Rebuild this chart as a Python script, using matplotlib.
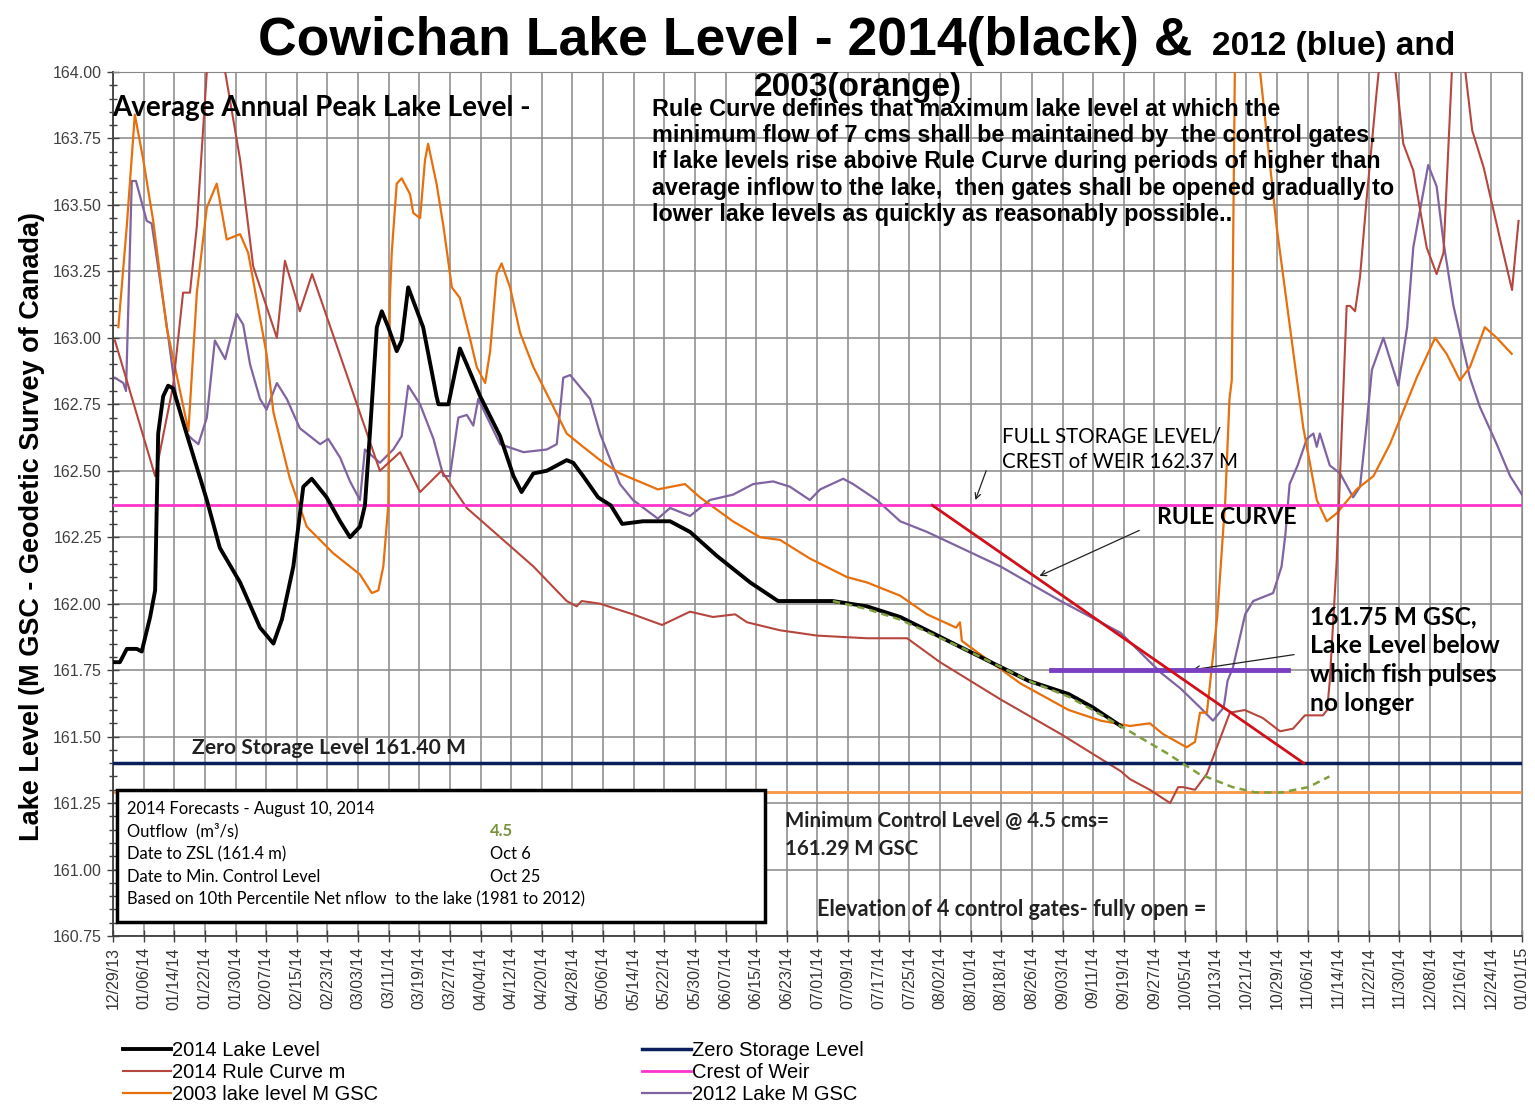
import matplotlib.pyplot as plt
import numpy as np
from matplotlib.patches import Rectangle

# x values are days since 12/29/2013
tick_labels = ['12/29/13', '01/06/14', '01/14/14', '01/22/14', '01/30/14', '02/07/14', '02/15/14',
               '02/23/14', '03/03/14', '03/11/14', '03/19/14', '03/27/14', '04/04/14', '04/12/14',
               '04/20/14', '04/28/14', '05/06/14', '05/14/14', '05/22/14', '05/30/14', '06/07/14',
               '06/15/14', '06/23/14', '07/01/14', '07/09/14', '07/17/14', '07/25/14', '08/02/14',
               '08/10/14', '08/18/14', '08/26/14', '09/03/14', '09/11/14', '09/19/14', '09/27/14',
               '10/05/14', '10/13/14', '10/21/14', '10/29/14', '11/06/14', '11/14/14', '11/22/14',
               '11/30/14', '12/08/14', '12/16/14', '12/24/14', '01/01/15']

lake2014_day = [0.5, 1.8, 3.6, 6.2, 7.5, 9.7, 11.0, 11.8, 13.1, 14.4, 15.7, 19.2, 24.5, 27.9, 33.2,
                38.4, 41.9, 44.1, 47.1, 49.7, 51.9, 55.8, 59.3, 61.9, 64.5, 65.8, 67.1, 68.9, 70.2,
                71.9, 74.1, 75.4, 77.1, 81.0, 84.5, 85.0, 87.6, 90.6, 92.4, 95.9, 101.1, 104.6, 106.7,
                109.8, 113.3, 118.5, 120.2, 122.8, 126.7, 130.0, 133.0, 138.4, 145.5, 150.7, 157.7,
                166.4, 173.7, 188.0, 196.9, 205.6, 212.6, 222.3, 239.1, 249.6, 255.9, 263.2]
lake2014_lvl = [161.78, 161.78, 161.83, 161.83, 161.82, 161.95, 162.05, 162.64, 162.78, 162.82, 162.81,
                162.64, 162.39, 162.21, 162.08, 161.91, 161.85, 161.94, 162.14, 162.44, 162.47, 162.40,
                162.31, 162.25, 162.29, 162.37, 162.64, 163.04, 163.10, 163.04, 162.95, 162.99, 163.19,
                163.04, 162.78, 162.75, 162.75, 162.96, 162.90, 162.78, 162.63, 162.48, 162.42, 162.49,
                162.50, 162.54, 162.53, 162.48, 162.40, 162.37, 162.30, 162.31, 162.31, 162.27, 162.18,
                162.08, 162.01, 162.01, 161.99, 161.95, 161.90, 161.83, 161.71, 161.66, 161.61, 161.54]

forecast_day = [188.0, 196.9, 205.6, 222.3, 239.1, 249.6, 255.9, 264.3, 275.0, 283.6, 292.4, 298.4,
                305.2, 312.2, 317.7]
forecast_lvl = [162.01, 161.98, 161.94, 161.83, 161.71, 161.65, 161.60, 161.53, 161.44, 161.36, 161.31,
                161.29, 161.29, 161.31, 161.35]

rule2014_day = [0.5, 11.0, 15.7, 18.3, 20.1, 21.9, 24.5, 28.5, 29.3, 33.2, 36.6, 42.8, 44.9, 48.8,
                52.0, 69.7, 75.0, 80.2, 85.8, 92.4, 109.8, 118.5, 121.1, 122.4, 127.2, 135.8, 143.4,
                150.7, 156.7, 162.5, 165.6, 174.2, 183.9, 196.9, 207.4, 216.0, 231.8, 247.5, 263.2,
                265.6, 270.8, 276.1, 278.2, 279.5, 282.6, 285.7, 288.3, 291.7, 295.6, 300.3, 304.8,
                308.2, 311.3, 316.0, 317.1, 317.8, 319.6, 322.2, 323.1, 324.4, 325.7, 327.4, 330.0,
                332.7, 337.0, 339.6, 343.1, 345.7, 347.5, 350.0, 352.8, 355.0, 358.0, 362.3, 365.4,
                366.3, 367.1]
rule2014_lvl = [162.99, 162.48, 162.82, 163.17, 163.17, 163.42, 164.00, 164.25, 164.00, 163.67, 163.27,
                163.00, 163.29, 163.10, 163.24, 162.50, 162.57, 162.42, 162.50, 162.36, 162.14, 162.01,
                161.99, 162.01, 162.00, 161.96, 161.92, 161.97, 161.95, 161.96, 161.93, 161.90, 161.88,
                161.87, 161.87, 161.78, 161.64, 161.51, 161.37, 161.34, 161.30, 161.25, 161.31, 161.31,
                161.30, 161.36, 161.46, 161.59, 161.60, 161.57, 161.52, 161.53, 161.58, 161.58, 161.60,
                161.71, 162.16, 163.12, 163.12, 163.10, 163.23, 163.52, 163.92, 164.30, 163.73, 163.63,
                163.34, 163.24, 163.32, 164.10, 164.05, 163.78, 163.64, 163.37, 163.18, 163.32, 163.44]

lake2003_day = [1.4, 3.6, 5.7, 7.9, 10.5, 14.0, 19.7, 21.9, 24.5, 27.1, 29.7, 33.2, 35.3, 40.1, 41.9,
                46.2, 50.6, 57.5, 64.5, 67.6, 69.3, 70.6, 71.9, 72.3, 72.8, 74.1, 75.4, 77.6, 78.4,
                80.2, 81.5, 82.3, 84.5, 86.3, 88.5, 90.6, 93.2, 95.0, 97.2, 98.5, 100.2, 101.5, 103.7,
                106.3, 109.8, 118.5, 122.8, 127.2, 132.4, 142.3, 149.4, 153.3, 161.9, 169.0, 174.2,
                182.0, 191.7, 196.9, 205.6, 212.6, 220.2, 221.2, 221.7, 237.0, 249.6, 258.0, 265.6,
                270.8, 274.2, 280.4, 282.6, 283.9, 285.7, 288.4, 290.5, 291.6, 292.2, 293.0, 296.2,
                299.6, 303.9, 307.4, 310.9, 314.4, 317.0, 319.6, 324.8, 329.2, 333.5, 340.5, 345.3,
                348.3, 351.8, 354.4, 358.3, 361.4, 365.3]
lake2003_lvl = [163.04, 163.42, 163.84, 163.67, 163.44, 163.04, 162.65, 163.17, 163.49, 163.58, 163.37,
                163.39, 163.32, 162.94, 162.72, 162.47, 162.29, 162.19, 162.11, 162.04, 162.05, 162.14,
                162.37, 163.14, 163.32, 163.58, 163.60, 163.54, 163.47, 163.45, 163.67, 163.73, 163.58,
                163.42, 163.19, 163.15, 163.00, 162.89, 162.83, 162.95, 163.24, 163.28, 163.19, 163.02,
                162.89, 162.64, 162.59, 162.54, 162.49, 162.43, 162.45, 162.40, 162.31, 162.25, 162.24,
                162.17, 162.10, 162.08, 162.03, 161.96, 161.91, 161.93, 161.86, 161.70, 161.60, 161.56,
                161.54, 161.55, 161.51, 161.46, 161.48, 161.59, 161.59, 161.95, 162.39, 162.77, 162.84,
                164.00, 164.40, 164.00, 163.42, 163.04, 162.66, 162.39, 162.31, 162.34, 162.43, 162.48,
                162.60, 162.85, 163.00, 162.94, 162.84, 162.89, 163.04, 163.00, 162.94]

lake2012_day = [0.5, 2.7, 3.4, 4.9, 6.0, 8.8, 10.1, 14.0, 16.5, 19.2, 20.6, 22.3, 24.5, 26.6, 29.3,
                32.3, 34.0, 35.8, 38.4, 40.1, 42.8, 45.4, 48.8, 54.1, 56.2, 59.3, 61.9, 64.5, 65.8,
                69.7, 73.2, 75.4, 77.1, 80.2, 83.7, 86.3, 88.0, 90.2, 92.4, 94.1, 95.4, 101.1, 107.2,
                113.3, 115.9, 117.6, 119.4, 124.6, 127.2, 132.4, 135.8, 142.3, 145.5, 150.7, 155.9,
                161.9, 167.2, 172.4, 176.8, 182.0, 184.7, 190.7, 193.3, 199.5, 205.6, 212.6, 231.8,
                247.5, 263.2, 273.7, 278.9, 283.9, 287.3, 290.1, 291.1, 292.5, 295.7, 297.8, 303.0,
                305.2, 306.2, 307.3, 309.4, 311.8, 313.5, 314.4, 315.2, 317.8, 320.5, 323.9, 325.7,
                327.4, 328.8, 331.8, 335.7, 338.0, 339.6, 343.5, 345.7, 347.5, 350.1, 354.4, 357.0,
                361.4, 364.9, 368.0]
lake2012_lvl = [162.85, 162.83, 162.80, 163.59, 163.59, 163.44, 163.43, 163.05, 162.78, 162.64, 162.62,
                162.60, 162.70, 162.99, 162.92, 163.09, 163.05, 162.90, 162.77, 162.73, 162.83, 162.77,
                162.66, 162.60, 162.62, 162.55, 162.46, 162.39, 162.58, 162.53, 162.58, 162.63, 162.82,
                162.75, 162.62, 162.48, 162.48, 162.70, 162.71, 162.67, 162.77, 162.60, 162.57, 162.58,
                162.60, 162.85, 162.86, 162.77, 162.64, 162.45, 162.39, 162.32, 162.36, 162.33, 162.39,
                162.41, 162.45, 162.46, 162.44, 162.39, 162.43, 162.47, 162.45, 162.39, 162.31, 162.27,
                162.14, 162.01, 161.89, 161.74, 161.68, 161.61, 161.56, 161.61, 161.71, 161.76, 161.96,
                162.01, 162.04, 162.14, 162.26, 162.45, 162.52, 162.62, 162.64, 162.59, 162.64, 162.52,
                162.49, 162.40, 162.44, 162.67, 162.88, 163.00, 162.82, 163.04, 163.34, 163.65, 163.57,
                163.36, 163.12, 162.85, 162.74, 162.60, 162.48, 162.41]

zero_storage = 161.40
weir_crest = 162.37
min_control = 161.29
fish_level = 161.75
fish_day = [245, 307]
rule_line_day = [214, 311]
rule_line_lvl = [162.37, 161.40]

W, H = 1535, 1113


def fx(px):
    return px / W


def fy(py):
    return 1 - py / H


ARIAL = 'Liberation Sans'
CALIBRI = 'Lato'

fig = plt.figure(figsize=(15.35, 11.13), dpi=100)
ax = fig.add_axes([fx(113), fy(936), fx(1522) - fx(113), fy(72) - fy(936)])

ax.axhline(min_control, color='#F79646', lw=2, zorder=2)
ax.plot(lake2012_day, lake2012_lvl, color='#8064A2', lw=1.6, label='2012 Lake M GSC', zorder=3)
ax.plot(lake2003_day, lake2003_lvl, color='#E8700C', lw=1.6, label='2003 lake level M GSC', zorder=3)
ax.plot(rule2014_day, rule2014_lvl, color='#B5473E', lw=1.5, label='2014 Rule Curve m', zorder=3)
ax.axhline(weir_crest, color='#FF33CC', lw=2, label='Crest of Weir', zorder=3)
ax.axhline(zero_storage, color='#0A1E5E', lw=2.5, label='Zero Storage Level', zorder=3)
ax.plot(fish_day, [fish_level, fish_level], color='#7A3FC0', lw=3.5, zorder=4)
ax.plot(rule_line_day, rule_line_lvl, color='#D0101A', lw=2, zorder=4)
ax.plot(lake2014_day, lake2014_lvl, color='black', lw=2.8, label='2014 Lake Level', zorder=5)
ax.plot(forecast_day, forecast_lvl, color='#7F9F3F', lw=1.8, ls=(0, (3, 2)), zorder=6)

ax.set_xlim(0, 368)
ax.set_ylim(160.75, 164.0)
ax.set_xticks(np.arange(0, 369, 8))
ax.set_xticklabels(tick_labels, rotation=90, fontsize=11.5, family=ARIAL, color='#333333')
yt = np.arange(160.75, 164.01, 0.25)
ax.set_yticks(yt)
ax.set_yticklabels(['%.2f' % v for v in yt], fontsize=11.5, family=ARIAL, color='#404040')
ax.set_yticks(np.arange(160.75, 164.0, 0.05), minor=True)
ax.tick_params(axis='both', which='major', direction='inout', length=9, width=1, color='#404040')
ax.tick_params(axis='y', which='minor', direction='inout', length=6, width=1, color='#404040')
ax.grid(True, which='major', color='#888888', lw=1.1)
ax.set_axisbelow(True)
for s in ['top', 'right']:
    ax.spines[s].set_color('#888888')
for s in ['left', 'bottom']:
    ax.spines[s].set_color('#404040')
    ax.spines[s].set_linewidth(1.3)

# forecast box
ax.add_patch(Rectangle((0.0028, 0.0162), 0.46, 0.153, transform=ax.transAxes, facecolor='white',
                       edgecolor='black', lw=2.5, zorder=7))
box_rows = [('2014 Forecasts - August 10, 2014', ''),
            ('Outflow  (m\u00b3/s)', '4.5'),
            ('Date to ZSL (161.4 m)', 'Oct 6'),
            ('Date to Min. Control Level', 'Oct 25'),
            ('Based on 10th Percentile Net nflow  to the lake (1981 to 2012)', '')]
for i, (a, b) in enumerate(box_rows):
    yy = fy(809 + i * 22.5)
    fig.text(fx(127), yy, a, fontsize=11.9, family=CALIBRI, va='center', zorder=8)
    if b:
        fig.text(fx(490), yy, b, fontsize=11.9, family=CALIBRI, va='center', zorder=8,
                 color='#77933C' if b == '4.5' else 'black',
                 weight='bold' if b == '4.5' else 'normal')

# title
fig.text(fx(258), fy(55), 'Cowichan Lake Level - 2014(black) & ', fontsize=38.5, weight='bold',
         family=ARIAL, va='baseline')
fig.text(fx(1212), fy(55), '2012 (blue) and', fontsize=24, weight='bold', family=ARIAL, va='baseline')
fig.text(fx(858), fy(96), '2003(orange)', fontsize=24, weight='bold', family=ARIAL, va='baseline',
         ha='center')

fig.text(fx(32), fy(527), 'Lake Level (M GSC - Geodetic Survey of Canada)', rotation=90, fontsize=19.5,
         weight='bold', family=ARIAL, ha='center', va='center')

fig.text(fx(112), fy(108), 'Average Annual Peak Lake Level -', fontsize=20, weight='bold',
         family=CALIBRI, va='center')
fig.text(fx(652), fy(98), 'Rule Curve defines that maximum lake level at which the\n'
         'minimum flow of 7 cms shall be maintained by  the control gates.\n'
         'If lake levels rise aboive Rule Curve during periods of higher than\n'
         'average inflow to the lake,  then gates shall be opened gradually to\n'
         'lower lake levels as quickly as reasonably possible..',
         fontsize=16.8, weight='bold', family=ARIAL, va='top', linespacing=1.18)

fig.text(fx(1002), fy(449), 'FULL STORAGE LEVEL/\nCREST of WEIR 162.37 M', fontsize=14.8,
         family=CALIBRI, va='center', linespacing=1.35)
ax.annotate('', xy=(225.0, 162.38), xytext=(228.3, 162.51),
            arrowprops=dict(arrowstyle='->', color='#222222', lw=0.9))
fig.text(fx(1157), fy(517), 'RULE CURVE', fontsize=16.7, weight='bold', family=CALIBRI, va='center')
ax.annotate('', xy=(241.3, 162.10), xytext=(268.7, 162.28),
            arrowprops=dict(arrowstyle='->', color='#222222', lw=0.9))
fig.text(fx(1310), fy(660), '161.75 M GSC,\nLake Level below\nwhich fish pulses\nno longer',
         fontsize=17.8, weight='bold', family=CALIBRI, va='center', linespacing=1.3)
ax.annotate('', xy=(281.3, 161.75), xytext=(309.2, 161.81),
            arrowprops=dict(arrowstyle='->', color='#222222', lw=0.9))
fig.text(fx(192), fy(748), 'Zero Storage Level 161.40 M', fontsize=15.2, weight='bold',
         family=CALIBRI, va='center', color='#222222')
fig.text(fx(785), fy(835), 'Minimum Control Level @ 4.5 cms=\n161.29 M GSC', fontsize=14.8, weight='bold',
         family=CALIBRI, va='center', linespacing=1.45, color='#222222')
fig.text(fx(817), fy(910), 'Elevation of 4 control gates- fully open =', fontsize=15.5, weight='bold',
         family=CALIBRI, va='center', color='#222222')

h, l = ax.get_legend_handles_labels()
order = ['2014 Lake Level', '2014 Rule Curve m', '2003 lake level M GSC',
         'Zero Storage Level', 'Crest of Weir', '2012 Lake M GSC']
hh = [h[l.index(k)] for k in order]
fig.legend(hh, order, loc='upper left', bbox_to_anchor=(fx(113), fy(1031)), ncol=2, frameon=False,
           prop={'family': ARIAL, 'size': 14.5}, handlelength=2.4, handletextpad=0.05,
           labelspacing=0.15, columnspacing=13.1, borderpad=0)

fig.savefig('out.png', dpi=100)
